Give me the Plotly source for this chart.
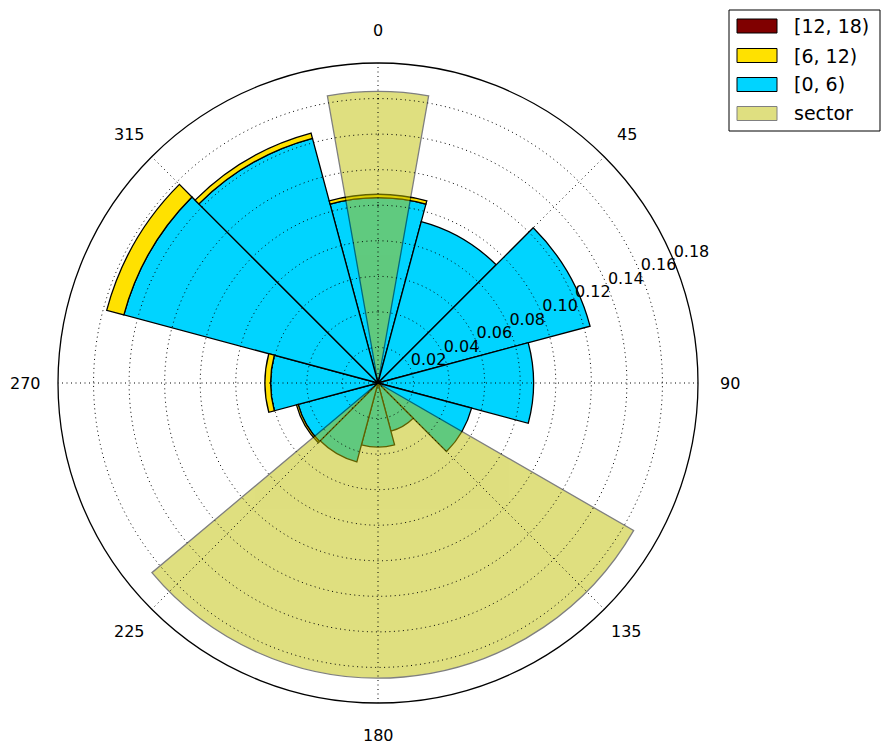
import numpy as np
import plotly.graph_objects as go

# ---------------- data ----------------
directions = [0, 30, 60, 90, 120, 150, 180, 210, 240, 270, 300, 330]
bin_labels = ["[0, 6)", "[6, 12)", "[12, 18)"]
freq_0_6 = [0.1042, 0.0940, 0.1235, 0.0875, 0.0545, 0.0280, 0.0360, 0.0460, 0.0465, 0.0604, 0.1480, 0.1425]
freq_6_12 = [0.0019, 0.0, 0.0, 0.0, 0.0, 0.0, 0.0, 0.0, 0.0010, 0.0032, 0.0100, 0.0030]
freq_12_18 = [0.0] * 12
sector_dirs = [0, 175]
sector_widths = [20, 110]
sector_r = [0.164, 0.166]
r_ticks = [0.02, 0.04, 0.06, 0.08, 0.10, 0.12, 0.14, 0.16, 0.18]
r_tick_labels = ["0.02", "0.04", "0.06", "0.08", "0.10", "0.12", "0.14", "0.16", "0.18"]
theta_ticks = [0, 45, 90, 135, 180, 225, 270, 315]
theta_tick_labels = ["0", "45", "90", "135", "180", "225", "270", "315"]

# ---------------- style ----------------
C_CYAN = "rgb(0,212,255)"
C_YELLOW = "rgb(255,225,0)"
C_RED = "rgb(128,0,0)"
C_SECTOR = "rgb(191,191,0)"
FONT = "DejaVu Sans"
EDGE = dict(color="black", width=1.3)
R_MAX = 0.18

W, H = 889, 755
L, R, T, B = 58, 191, 63, 52
PW, PH = W - L - R, H - T - B
LABEL_RING = 1.1   # angular labels sit at 1.1 x frame radius (in paper units of the polar domain)

a0 = np.array(freq_0_6)
a1 = np.array(freq_6_12)
a2 = np.array(freq_12_18)

fig = go.Figure()
fig.add_trace(go.Barpolar(theta=directions, r=a0, base=np.zeros_like(a0), width=30,
                          marker=dict(color=C_CYAN, line=EDGE), name=bin_labels[0], showlegend=False))
fig.add_trace(go.Barpolar(theta=directions, r=a1, base=a0, width=30,
                          marker=dict(color=C_YELLOW, line=EDGE), name=bin_labels[1], showlegend=False))
fig.add_trace(go.Barpolar(theta=directions, r=a2, base=a0 + a1, width=30,
                          marker=dict(color=C_RED, line=EDGE), name=bin_labels[2], showlegend=False))
fig.add_trace(go.Barpolar(theta=sector_dirs, r=sector_r, width=sector_widths, opacity=0.5,
                          marker=dict(color=C_SECTOR, line=dict(color="black", width=1.3)),
                          name="sector", showlegend=False))

# dotted grid drawn above the bars (as in the reference)
GRID = dict(color="black", width=1, dash="1px,3.5px")
circ = np.linspace(0, 360, 721)
for rv in r_ticks[:-1]:
    fig.add_trace(go.Scatterpolar(theta=circ, r=np.full_like(circ, rv), mode="lines",
                                  line=GRID, hoverinfo="skip", showlegend=False))
for tv in theta_ticks:
    fig.add_trace(go.Scatterpolar(theta=[tv, tv], r=[0, R_MAX], mode="lines",
                                  line=GRID, hoverinfo="skip", showlegend=False))

# radial tick labels along 67.5 deg (compass)
fig.add_trace(go.Scatterpolar(theta=[67.5] * len(r_ticks), r=r_ticks, mode="text",
                              text=r_tick_labels, textposition="top right",
                              textfont=dict(family=FONT, size=16, color="black"),
                              hoverinfo="skip", showlegend=False, cliponaxis=False))

fig.update_layout(
    width=W, height=H,
    margin=dict(l=L, r=R, t=T, b=B, pad=0),
    paper_bgcolor="white",
    font=dict(family=FONT, size=16, color="black"),
    polar=dict(
        bgcolor="white",
        barmode="overlay",
        angularaxis=dict(direction="clockwise", rotation=90,
                         tickmode="array", tickvals=theta_ticks, ticktext=theta_tick_labels,
                         showticklabels=False,
                         showgrid=False, showline=True, linecolor="black", linewidth=1.3,
                         ticks=""),
        radialaxis=dict(range=[0, R_MAX], tickmode="array", tickvals=r_ticks,
                        showticklabels=False, showgrid=False, showline=False, ticks="",
                        angle=22.5),
    ),
    showlegend=False,
)

annotations = []
# angular tick labels centred on a ring just outside the frame (polar domain is paper [0,1]x[0,1])
for tv, tl in zip(theta_ticks, theta_tick_labels):
    ang = np.deg2rad(tv)
    annotations.append(dict(xref="paper", yref="paper",
                            x=0.5 + 0.5 * LABEL_RING * np.sin(ang),
                            y=0.5 + 0.5 * LABEL_RING * np.cos(ang),
                            text=tl, showarrow=False, xanchor="center", yanchor="middle",
                            font=dict(family=FONT, size=16, color="black")))

# legend (box, patches, labels) in paper coordinates
def px(x):
    return (x - L) / PW

def py(y):
    return (H - B - y) / PH

shapes = [dict(type="rect", xref="paper", yref="paper", x0=px(729), x1=px(880), y0=py(131), y1=py(10),
               line=dict(color="black", width=1), fillcolor="white", layer="above")]
leg_items = [(bin_labels[2], C_RED, "black"), (bin_labels[1], C_YELLOW, "black"),
             (bin_labels[0], C_CYAN, "black"), ("sector", "rgb(223,223,128)", "rgb(128,128,128)")]
row_y = [26, 55.5, 84.5, 113.5]
for (lab, fc, lc), yc in zip(leg_items, row_y):
    shapes.append(dict(type="rect", xref="paper", yref="paper", x0=px(737), x1=px(777),
                       y0=py(yc + 7), y1=py(yc - 7), line=dict(color=lc, width=1),
                       fillcolor=fc, layer="above"))
    annotations.append(dict(xref="paper", yref="paper", x=px(792), y=py(yc), text=lab,
                            showarrow=False, xanchor="left", yanchor="middle",
                            font=dict(family=FONT, size=19, color="black")))
fig.update_layout(shapes=shapes, annotations=annotations)

fig.write_html("out.html")
